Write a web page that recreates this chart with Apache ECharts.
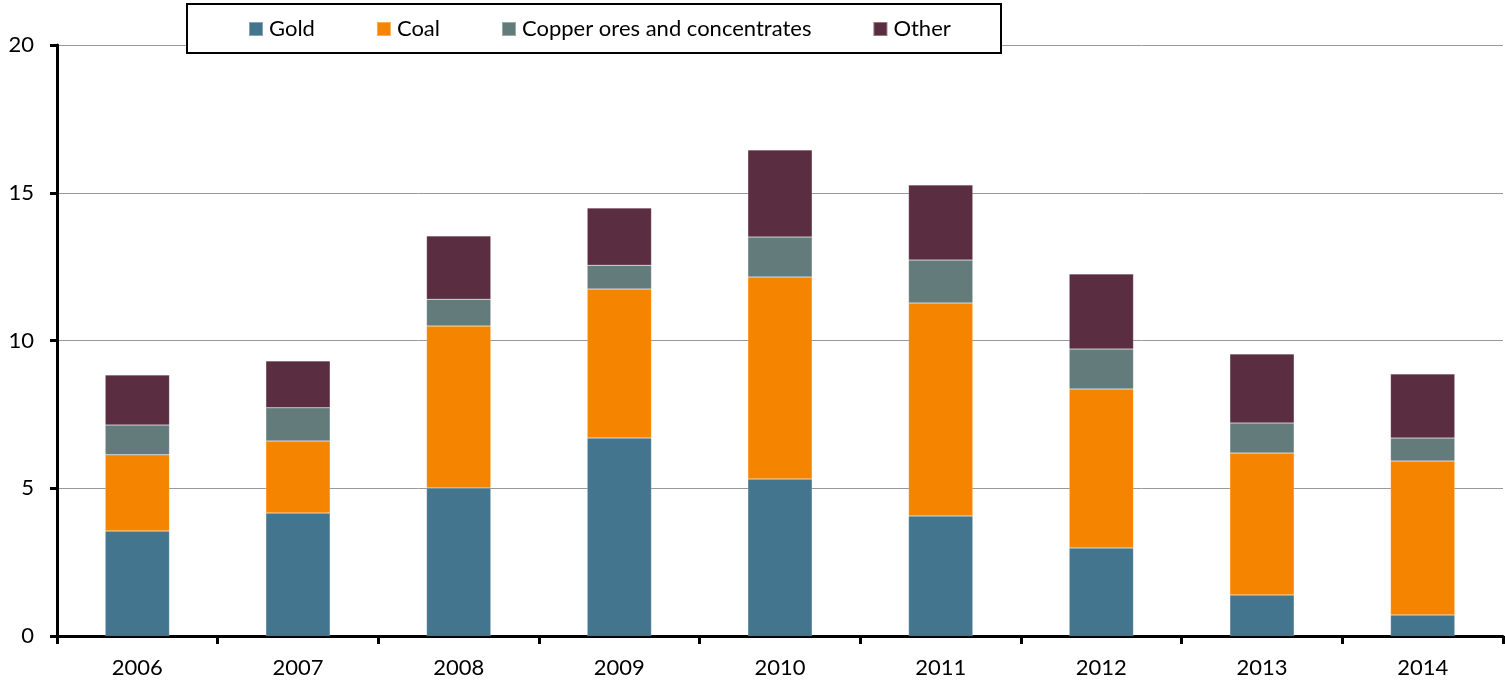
<!DOCTYPE html>
<html>
<head>
<meta charset="utf-8">
<script src="https://cdn.jsdelivr.net/npm/echarts@6/dist/echarts.min.js"></script>
<style>
  html, body { margin: 0; padding: 0; background: #fff; }
  #chart { width: 1505px; height: 684px; }
</style>
</head>
<body>
<div id="chart"></div>
<script>
var years = ['2006', '2007', '2008', '2009', '2010', '2011', '2012', '2013', '2014'];
var gold   = [3.55, 4.16, 5.01, 6.70, 5.31, 4.06, 2.98, 1.39, 0.71];
var coal   = [2.58, 2.44, 5.48, 5.04, 6.84, 7.21, 5.38, 4.80, 5.21];
var copper = [1.01, 1.12, 0.91, 0.81, 1.35, 1.45, 1.35, 1.02, 0.78];
var other  = [1.69, 1.59, 2.14, 1.93, 2.95, 2.54, 2.54, 2.33, 2.17];

var fontFamily = 'Lato, "Open Sans", sans-serif';

// one stacked bar series per product
var makeSeries = function (name, data, color) {
  return {
    name: name,
    type: 'bar',
    stack: 'total',
    barWidth: '40%',
    data: data,
    itemStyle: { color: color, borderColor: 'rgba(255,255,255,0.35)', borderWidth: 0.5 }
  };
};

var chart = echarts.init(document.getElementById('chart'));
chart.setOption({
  animation: false,
  backgroundColor: '#fff',
  textStyle: { fontFamily: fontFamily },
  grid: { left: 57, right: 2, top: 45, bottom: 48, containLabel: false },
  graphic: [{
    type: 'rect',
    z: 5,
    shape: { x: 187, y: 4, width: 814, height: 49 },
    style: { fill: '#fff', stroke: '#000', lineWidth: 2 }
  }],
  legend: {
    z: 10,
    left: 248,
    top: 18,
    padding: 0,
    itemWidth: 14,
    itemHeight: 14,
    itemGap: 61,
    icon: 'rect',
    textStyle: { fontSize: 22, color: '#000', fontFamily: fontFamily, padding: [0, 0, 0, 1] },
    data: ['Gold', 'Coal', 'Copper ores and concentrates', 'Other']
  },
  xAxis: {
    type: 'category',
    data: years,
    axisLine: { lineStyle: { color: '#000', width: 3 } },
    axisTick: { show: true, length: 8, inside: false, lineStyle: { color: '#000', width: 3 } },
    axisLabel: { fontSize: 22, color: '#000', margin: 21 }
  },
  yAxis: {
    type: 'value',
    min: 0,
    max: 20,
    interval: 5,
    axisLine: { show: true, lineStyle: { color: '#000', width: 3 } },
    axisTick: { show: true, length: 7, lineStyle: { color: '#000', width: 3 } },
    axisLabel: { fontSize: 22, color: '#000', margin: 23 },
    splitLine: { lineStyle: { color: '#999', width: 1 } }
  },
  series: [
    makeSeries('Gold', gold, '#43758E'),
    makeSeries('Coal', coal, '#F58500'),
    makeSeries('Copper ores and concentrates', copper, '#647B7B'),
    makeSeries('Other', other, '#5A2D40')
  ]
});
</script>
</body>
</html>
